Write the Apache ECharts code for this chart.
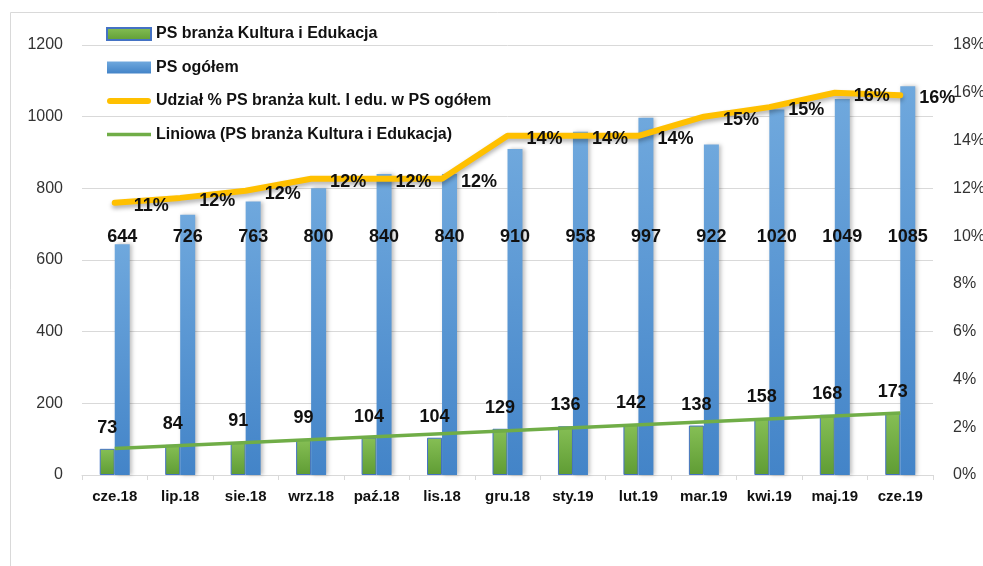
<!DOCTYPE html>
<html>
<head>
<meta charset="utf-8">
<script src="https://cdn.jsdelivr.net/npm/echarts@6/dist/echarts.min.js"></script>
<style>
  html, body { margin: 0; padding: 0; background: #fff; }
  #chart { width: 983px; height: 566px; }
</style>
</head>
<body>
<div id="chart"></div>
<script>
// PS branża Kultura i Edukacja vs PS ogółem, cze.18 - cze.19

const months = ['cze.18','lip.18','sie.18','wrz.18','paź.18','lis.18','gru.18','sty.19','lut.19','mar.19','kwi.19','maj.19','cze.19'];
const kulturaEdu = [73, 84, 91, 99, 104, 104, 129, 136, 142, 138, 158, 168, 173];
const ogolem = [644, 726, 763, 800, 840, 840, 910, 958, 997, 922, 1020, 1049, 1085];
// udział %
const udzial = [11.4, 11.6, 11.9, 12.4, 12.4, 12.4, 14.2, 14.2, 14.2, 15.0, 15.4, 16.0, 15.9];
// trend liniowy - tylko punkty końcowe
const trend = [74, null, null, null, null, null, null, null, null, null, null, null, 173];

const FONT = 'Liberation Sans';
const LBL = { fontFamily: FONT, fontSize: 18, fontWeight: 'bold', color: '#111' };

const chart = echarts.init(document.getElementById('chart'));

chart.setOption({
  animation: false,
  textStyle: { fontFamily: FONT },
  graphic: [{
    type: 'rect',
    shape: { x: 10.5, y: 12.5, width: 1200, height: 800 },
    style: { fill: 'none', stroke: '#d9d9d9', lineWidth: 1 },
    z: -10
  }],
  legend: {
    orient: 'vertical',
    left: 106,
    top: 25,
    padding: 0,
    itemGap: 15.5,
    itemWidth: 44,
    itemHeight: 12,
    textStyle: { fontFamily: FONT, fontSize: 16, fontWeight: 'bold', color: '#111', lineHeight: 18 },
    data: [
      { name: 'PS branża Kultura i Edukacja', icon: 'rect' },
      { name: 'PS ogółem', icon: 'rect' },
      { name: 'Udział % PS branża kult. I edu. w PS ogółem', icon: 'path://M3,0h38a3,3 0 0 1 0,6h-38a3,3 0 0 1 0,-6z' },
      { name: 'Liniowa (PS branża Kultura i Edukacja)', icon: 'path://M0,0h44v3.5h-44z' }
    ]
  },
  grid: { left: 82, right: 50, top: 45, bottom: 91, outerBoundsMode: 'none' },
  xAxis: {
    type: 'category',
    data: months,
    axisLine: { lineStyle: { color: '#d9d9d9' } },
    axisTick: { show: true, length: 5, lineStyle: { color: '#d9d9d9' } },
    axisLabel: { fontFamily: FONT, fontSize: 15, fontWeight: 'bold', color: '#111', margin: 14 }
  },
  yAxis: [{
    type: 'value',
    min: 0, max: 1200, interval: 200,
    axisLine: { show: false },
    axisTick: { show: false },
    splitLine: { lineStyle: { color: '#d9d9d9' } },
    axisLabel: { fontFamily: FONT, fontSize: 16, color: '#333', margin: 19, formatter: v => String(v) }
  }, {
    type: 'value',
    min: 0, max: 18, interval: 2,
    axisLine: { show: false },
    axisTick: { show: false },
    splitLine: { show: false },
    axisLabel: { fontFamily: FONT, fontSize: 16, color: '#333', margin: 20, formatter: v => v + '%' }
  }],
  series: [{
    name: 'PS branża Kultura i Edukacja',
    type: 'bar',
    data: kulturaEdu,
    barWidth: 15,
    barGap: '0%',
    itemStyle: {
      color: new echarts.graphic.LinearGradient(0, 0, 0, 1, [
        { offset: 0, color: '#86bf55' },
        { offset: 1, color: '#5f9c34' }
      ]),
      borderColor: '#4472c4',
      borderWidth: 1
    },
    label: { show: true, position: 'top', distance: 12, ...LBL }
  }, {
    name: 'PS ogółem',
    type: 'bar',
    data: ogolem,
    barWidth: 15,
    itemStyle: {
      color: new echarts.graphic.LinearGradient(0, 0, 0, 1, [
        { offset: 0, color: '#6fa8dd' },
        { offset: 1, color: '#4384c8' }
      ]),
      shadowColor: 'rgba(0,0,0,0.25)',
      shadowBlur: 4,
      shadowOffsetX: 2
    },
    label: { show: true, position: 'insideBottom', distance: 229, ...LBL }
  }, {
    name: 'Udział % PS branża kult. I edu. w PS ogółem',
    type: 'line',
    yAxisIndex: 1,
    data: udzial,
    symbol: 'circle',
    symbolSize: 2,
    showSymbol: true,
    z: 5,
    lineStyle: {
      color: '#ffc000', width: 6, cap: 'round', join: 'round',
      shadowColor: 'rgba(0,0,0,0.3)', shadowBlur: 4, shadowOffsetY: 3
    },
    itemStyle: { color: '#ffc000' },
    label: {
      show: true, position: 'right', distance: 18, offset: [0, 3], ...LBL,
      formatter: p => Math.round(p.value) + '%'
    }
  }, {
    name: 'Liniowa (PS branża Kultura i Edukacja)',
    type: 'line',
    data: trend,
    connectNulls: true,
    symbol: 'none',
    z: 4,
    lineStyle: { color: '#70ad47', width: 3.5 },
    itemStyle: { color: '#70ad47' }
  }]
});
</script>
</body>
</html>
